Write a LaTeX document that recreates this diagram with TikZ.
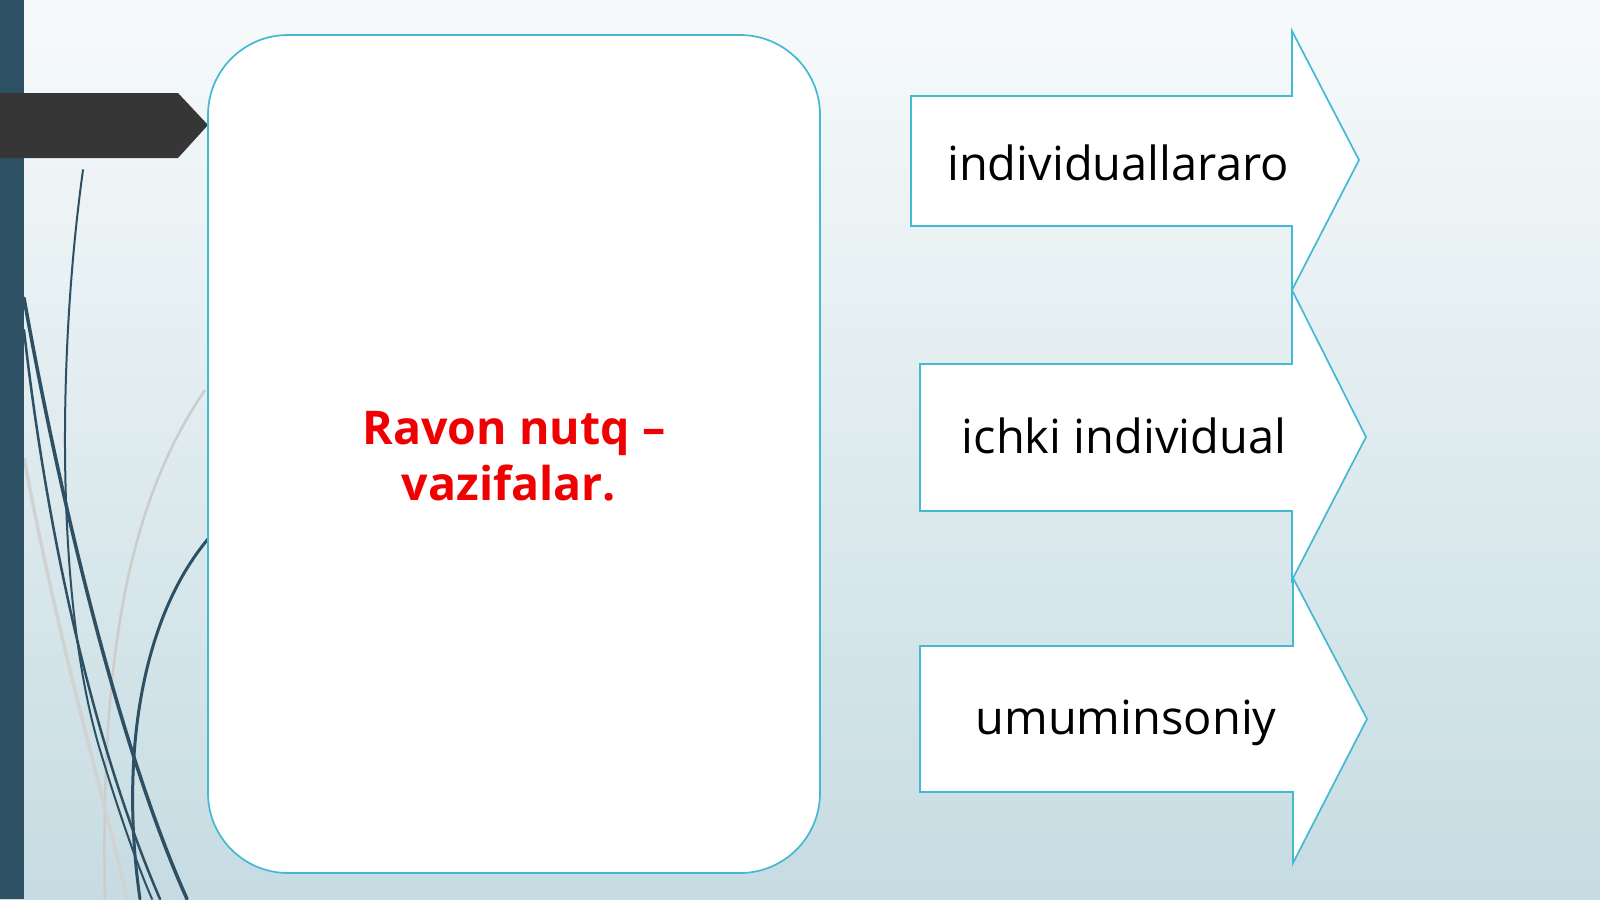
\documentclass[tikz,border=0pt]{standalone}
\usepackage{fontspec}
\setmainfont{Open Sans}
\begin{document}
\begin{tikzpicture}[x=1pt,y=-1pt,
  cyanline/.style={draw=cyanB,line width=1.7pt},
  armtext/.style={anchor=base,font=\fontsize{47}{56}\selectfont,text=black,inner sep=0pt},
  swirl/.style={draw=barblue,line cap=round}]
\definecolor{cyanB}{HTML}{45B8D2}
\definecolor{barblue}{HTML}{2D5064}
\definecolor{darkarrow}{HTML}{363636}
\definecolor{bgtop}{HTML}{F7FAFB}
\definecolor{bgbot}{HTML}{C6DCE2}
\definecolor{redtext}{HTML}{F00000}
\useasboundingbox (0,0) rectangle (1600,899);
\shade[top color=bgtop,bottom color=bgbot] (0,0) rectangle (1600,899);
% faint grey swirls
\draw[gray!40,line width=2.5pt] (205,390) .. controls (130,500) and (100,650) .. (105,899);
\draw[gray!35,line width=3.5pt] (24,458) .. controls (60,650) and (100,780) .. (127,899);
% dark swirls
\draw[swirl,line width=2pt] (83,170) .. controls (58,350) and (55,600) .. (100,750) .. controls (115,800) and (135,860) .. (152,899);
\draw[swirl,line width=3.5pt] (24,298) .. controls (60,500) and (120,750) .. (187,899);
\draw[swirl,line width=2.5pt] (24,330) .. controls (50,560) and (100,760) .. (160,899);
\draw[swirl,line width=3pt] (208,539) .. controls (140,620) and (120,760) .. (140,899);
% left bar and dark pointer
\fill[barblue] (0,0) rectangle (24,899);
\fill[darkarrow] (0,93) -- (178,93) -- (208,125) -- (178,158) -- (0,158) -- cycle;
% main box
\node[cyanline,fill=white,rounded corners=80pt,minimum width=612pt,minimum height=838pt,inner sep=0pt] (main) at (514,454) {};
\node[anchor=center,align=center,text=redtext,font=\bfseries\fontsize{46.5}{56}\selectfont,inner sep=0pt] (mtext) at (514,456) {Ravon nutq –\\vazifalar.\hspace*{10pt}};
% arrows
\path[cyanline,fill=white] (911,96) -- (1292,96) -- (1292,31) -- (1359,160) -- (1292,290) -- (1292,226) -- (911,226) -- cycle;
\path[cyanline,fill=white] (920,364) -- (1292,364) -- (1292,290) -- (1366,437) -- (1292,580) -- (1292,511) -- (920,511) -- cycle;
\path[cyanline,fill=white] (920,646) -- (1293,646) -- (1293,578) -- (1367,719) -- (1293,863) -- (1293,792) -- (920,792) -- cycle;
\node[armtext] (a1) at (1118,180) {individuallararo};
\node[armtext] (a2) at (1124,453) {ichki individual};
\node[armtext] (a3) at (1126,734) {umuminsoniy};
\end{tikzpicture}
\end{document}
